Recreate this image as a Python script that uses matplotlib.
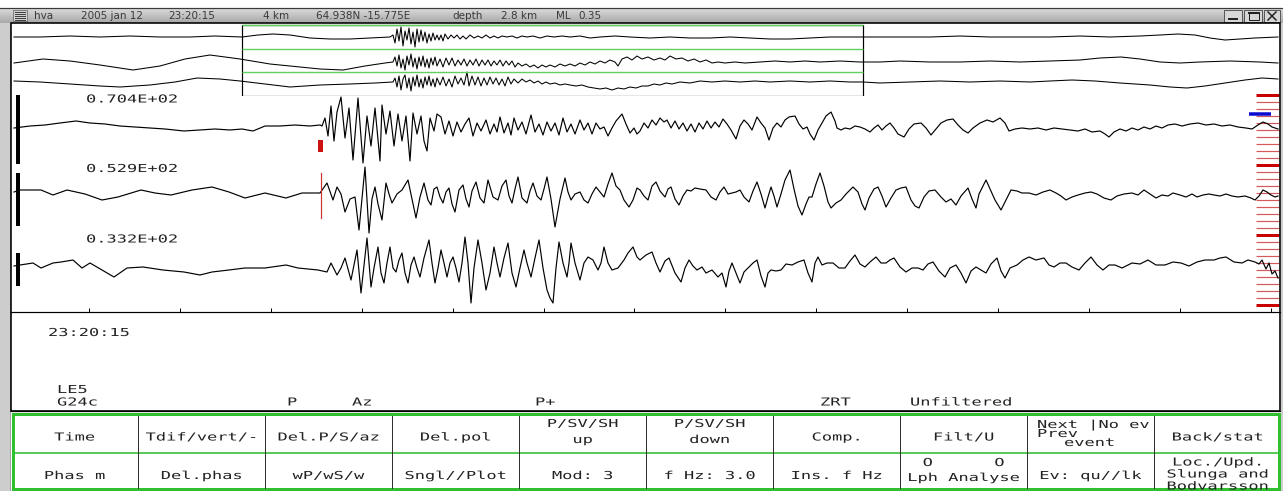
import numpy as np
import matplotlib
matplotlib.use("Agg")
import matplotlib.pyplot as plt
import matplotlib.patheffects as pe
from matplotlib.patches import Rectangle
from matplotlib.transforms import Affine2D

# ============================ DATA ============================
HEADER_FIELDS = ["hva", "2005 jan 12", "23:20:15", "4 km", "64.938N -15.775E",
                 "depth", "2.8 km", "ML", "0.35"]
START_TIME = "23:20:15"
SPS = 90.9            # display samples per second
FIRST_TICK = 89       # sample of first full second
P_PICK = 321          # sample of P pick
MAX_AMPS = ["0.704E+02", "0.529E+02", "0.332E+02"]
WINDOW = (242, 863)   # zoom window in overview samples

# main traces: (sample, amplitude)
Z_TRACE = [
    (14, -2), (30, 0), (45, 1), (60, 3), (76, 5), (90, 3), (105, 2), (120, 0), (135, -1), (150, -2),
    (165, -3), (184, -5), (200, -4), (215, -3), (230, -4), (242, -3), (253, -5), (265, 0), (280, 0),
    (295, 1), (310, 0), (320, 1),
    (322, 0), (325, 8), (328, -10), (331, 20), (334, -15), (337, 14), (341, 29), (345, -12), (349, 18),
    (353, -34), (358, 28), (363, -37), (367, 10), (371, -20), (375, 18), (380, -35), (382, 21), (386, -8),
    (390, 15), (394, -20), (398, 12), (402, -15), (406, 10), (410, -35), (413, 13), (417, -8), (421, 10),
    (424, -15), (427, -25), (430, 8), (434, -5), (437, 12),
    (441, 9), (445, -8), (449, 5), (453, -10), (457, 4), (461, -6), (465, 2), (469, 8), (473, -10),
    (477, 3), (481, -5), (486, 6), (490, -8), (494, 2), (497, -6), (500, 9), (504, -7), (508, 3),
    (511, -9), (514, 8), (518, -4), (522, 4), (526, -8), (531, 11), (535, -6), (539, 2), (543, -9),
    (547, 4), (551, -5), (555, 3), (559, -9), (563, 8), (567, -6), (571, 2), (575, -8), (580, 6),
    (584, -4), (588, 3), (592, -8), (596, 3), (600, -3), (604, -1), (608, -10), (612, -2), (616, 5),
    (622, 12), (626, 2), (630, -7), (634, -2), (637, -8),
    (640, -5), (644, 3), (648, -2), (652, 6), (656, 1), (660, 8), (664, 4), (667, 6), (671, -2),
    (675, 5), (679, -3), (683, 3), (687, -5), (691, 2), (695, -6), (699, 3), (703, -3), (707, 5),
    (711, -2), (715, 4), (719, -1), (723, 7), (727, 2), (731, -4), (736, -13), (740, 0), (744, 6),
    (748, 2), (752, -4), (757, 9), (761, 3), (765, -2), (769, -14), (773, -2), (777, 3), (781, -1),
    (785, 6), (789, 9), (795, 10), (799, 2), (803, -3), (807, -1), (810, -8), (814, -14), (818, -4),
    (822, 3), (826, 10), (831, 14), (835, 5), (837, -2), (841, -4), (845, -2), (850, -3), (855, 0),
    (860, -1), (865, -3), (870, -6), (874, -2), (878, 1), (882, -4), (886, 0), (890, 3), (894, -2),
    (898, -8), (904, -11), (909, -3), (914, 2), (921, 3), (926, -2), (931, -9), (936, -3), (941, 3),
    (947, 6), (953, 7), (958, 1), (963, -4), (968, -7), (973, -2), (980, 3), (987, 6), (993, 4),
    (1000, 8), (1005, 3), (1009, -5), (1015, -3), (1022, -2), (1030, -3), (1038, -2), (1046, -4),
    (1054, -2), (1062, -3), (1070, -4), (1078, -5), (1085, -3), (1092, -6), (1100, -5), (1105, -8),
    (1109, -11), (1114, -6), (1120, -3), (1126, -5), (1132, -2), (1138, -4), (1144, -1), (1150, -3),
    (1156, 0), (1162, -2), (1168, 1), (1175, 2), (1182, 0), (1190, 2), (1198, 3), (1206, 1),
    (1214, 2), (1222, 0), (1230, 1), (1238, -1), (1246, -2), (1252, -3), (1258, 1), (1263, 4),
    (1268, 2), (1272, -1), (1278, -3),
]

R_TRACE = [
    (14, 2), (20, 4), (41, 4), (53, -1), (67, 4), (85, 0), (102, -6), (118, -3), (141, 4), (155, 1),
    (171, -1), (192, 4), (212, 7), (229, 2), (245, -4), (265, 1), (286, -4), (302, 1), (320, 1),
    (327, 11), (333, -6), (337, 7), (341, 0), (345, -18), (350, -5), (355, -3), (359, -36), (365, 27),
    (369, -39), (372, -5), (375, 7), (378, -10), (382, -26), (386, 11), (389, 0), (392, -9), (397, 0),
    (402, 4), (408, 14), (412, -5), (416, -24), (420, -3), (424, 11), (428, -6), (431, -11), (434, 5),
    (437, 7), (440, -3), (443, -9), (446, 2), (449, 6), (452, -10), (455, -18), (459, 4), (463, 9),
    (466, -5), (469, -13), (472, 3), (476, 12), (480, -4), (484, -9), (488, 14), (493, -3), (498, -6),
    (502, 8), (506, 14), (509, -2), (512, -9), (515, 5), (518, 17), (522, -4), (527, -9), (530, 3),
    (533, 11), (537, -2), (541, -6), (544, 5), (547, 17), (551, -5), (555, -33), (560, -5), (565, 16),
    (568, 2), (571, -6), (575, 0), (580, 2), (584, -6), (588, -9), (592, 0), (596, 7), (600, 2),
    (604, -3), (608, 10), (612, 21), (616, 8), (620, 4), (624, -6), (629, -13), (633, -6), (637, 6),
    (640, 4), (644, -2), (648, -6), (652, 8), (656, 12), (660, 3), (665, -3), (668, 5), (671, 7),
    (675, -5), (679, -11), (683, -2), (687, 4), (691, 3), (695, 6), (700, 5), (706, 4), (711, -3),
    (716, -6), (720, 2), (724, 7), (728, 0), (732, 1), (736, 2), (740, 4), (744, -3), (749, -8),
    (753, 3), (757, 12), (761, 0), (765, -14), (768, -3), (771, 7), (774, -2), (777, -13), (781, 0),
    (785, 14), (790, 24), (794, 5), (798, -12), (802, -21), (806, -10), (809, -3), (812, -3),
    (816, 10), (820, 21), (824, 8), (828, -8), (831, -14), (836, -9), (841, -6), (846, 0), (853, 7),
    (858, 2), (862, -10), (865, -16), (869, -4), (874, 5), (878, 7), (882, -2), (886, -13), (891, -4),
    (896, 4), (901, 6), (906, 7), (911, -6), (915, -12), (919, -14), (924, -3), (929, 3), (935, 4),
    (941, -3), (946, -8), (951, -5), (956, -11), (961, -2), (968, 6), (972, -5), (976, -14), (979, 0),
    (983, 8), (986, 14), (990, 5), (995, -6), (1001, -16), (1006, -6), (1011, 4), (1017, 3),
    (1022, 1), (1029, 1), (1036, -1), (1043, 2), (1050, 4), (1056, 1), (1061, -2), (1066, -6),
    (1072, -3), (1078, -1), (1085, 1), (1091, 2), (1097, 0), (1104, -4), (1111, -6), (1117, -2),
    (1124, 0), (1132, 1), (1138, -1), (1144, 4), (1150, 0), (1156, -4), (1162, -1), (1168, -2),
    (1173, 1), (1180, -1), (1186, -3), (1192, 0), (1197, -3), (1203, -1), (1209, 0), (1214, -1),
    (1220, -2), (1226, 0), (1232, -2), (1238, -3), (1245, -2), (1251, -4), (1255, -6), (1259, -2),
    (1263, 4), (1267, 2), (1271, -1), (1275, -3), (1278, -2),
]

T_TRACE = [
    (14, 2), (20, 3), (33, 5), (41, 0), (53, 5), (61, 6), (73, 8), (82, 0), (90, 5), (102, -2),
    (114, -9), (127, 0), (143, 1), (163, -2), (184, -4), (200, -7), (212, -4), (229, -2), (245, 0),
    (265, 0), (286, 3), (298, 0), (318, -2), (327, -4),
    (331, 5), (337, -7), (341, 0), (345, 10), (351, -12), (357, 18), (361, -25), (367, 30), (371, -19),
    (374, 0), (378, 21), (381, -5), (384, -15), (387, 5), (390, 21), (393, 0), (396, -4), (399, 8),
    (402, 15), (405, -5), (408, -15), (411, 3), (414, 11), (417, 0), (420, -9), (424, 10), (429, 28),
    (432, 5), (435, -15), (438, 0), (441, 18), (444, 5), (447, -9), (450, 5), (453, 11), (456, 0),
    (459, -14), (462, 5), (465, 31), (468, 5), (471, -35), (474, 0), (478, 28), (482, 5), (486, -22),
    (490, -5), (494, 21), (497, 5), (500, -9), (504, 10), (508, 25), (512, -5), (516, -19), (520, 0),
    (524, 18), (527, 5), (531, -9), (535, 10), (539, 28), (543, 0), (547, -22), (550, -30), (553, -35),
    (556, 0), (559, 26), (563, 5), (567, -9), (569, 5), (571, 25), (575, 5), (580, -12), (584, 5),
    (588, 11), (593, 8), (598, -2), (601, 5), (604, 21), (608, 5), (612, -2), (618, 0), (624, 8),
    (628, 15), (633, 21), (637, 11),
    (640, 8), (646, 13), (652, 16), (656, 5), (660, -4), (665, 7), (669, 10), (675, -5), (681, -14),
    (685, 0), (689, 8), (693, 2), (697, -2), (702, 1), (706, -5), (712, -2), (718, -9), (722, -5),
    (726, -19), (729, -3), (732, 5), (736, -5), (740, -15), (744, -4), (749, 1), (753, 5), (757, 8),
    (761, -8), (765, -19), (768, -5), (771, -2), (776, -3), (781, -2), (786, 4), (792, 3), (798, 6),
    (804, 8), (808, -5), (812, -14), (815, 5), (818, 11), (822, 3), (827, 5), (833, 5), (839, 0),
    (845, 0), (850, 7), (855, 13), (860, 4), (865, 1), (870, 6), (876, 11), (881, 5), (886, 5),
    (890, 8), (894, 10), (900, 1), (906, -4), (912, 0), (918, 0), (923, -2), (928, 4), (933, 6),
    (939, -3), (945, -9), (950, 0), (956, 3), (961, -5), (966, -15), (971, -3), (976, 1), (981, -2),
    (986, -5), (991, 4), (997, 10), (1001, -3), (1005, -10), (1010, 0), (1017, 3), (1023, 8),
    (1029, 11), (1036, 8), (1044, 10), (1049, 3), (1054, 1), (1060, 5), (1066, 5), (1072, 1),
    (1079, -2), (1085, 5), (1091, 11), (1097, 3), (1103, -2), (1109, 3), (1115, 3), (1122, 0),
    (1132, 5), (1140, 4), (1148, 8), (1156, 3), (1165, 3), (1173, 6), (1181, 5), (1189, 2),
    (1197, 6), (1205, 8), (1214, 8), (1220, 10), (1226, 11), (1234, 6), (1242, 5), (1248, 8),
    (1255, 6), (1259, 4), (1262, 8), (1266, -1), (1269, 5), (1272, -6), (1275, -3), (1278, -10),
]

# overview traces (whole record): (overview sample, amplitude)
OV_Z = [
    (14, 0), (40, 0), (70, 1), (100, 0), (130, 1), (160, 0), (190, 0), (215, 1), (242, 0), (258, 2),
    (273, 3), (290, 2), (310, -1), (330, -2), (350, -2), (370, -1), (390, 0),
    (393, 2), (395, -6), (397, 8), (399, -4), (401, 10), (403, -9), (405, 6), (407, -3), (409, 9),
    (411, -7), (413, 5), (415, -10), (417, 8), (419, -5), (421, 7), (423, -4), (425, 5), (427, -6),
    (429, 3), (431, -4), (433, 4), (435, -3), (437, 2), (439, -3), (441, 2), (443, -4), (445, 3),
    (448, -2), (451, 2), (454, -1), (457, 2), (460, -2), (463, 1), (466, -2), (470, 2), (474, -1),
    (478, 1), (482, -1), (486, 2), (490, -1), (494, 1), (498, -1), (502, 1), (507, 0), (512, 1),
    (517, -1), (522, 1), (527, 0), (533, 1), (540, -1), (547, 1), (554, 0), (562, 1), (570, 0),
    (580, 1), (590, -1), (600, 0), (615, 1), (630, 0), (650, -1), (670, 0), (690, -1), (710, -1),
    (730, 0), (750, -1), (770, -2), (790, -2), (810, -1), (830, 0), (850, 0), (870, 0), (900, 0),
    (930, 0), (960, 1), (990, 0), (1020, 0), (1050, 0), (1080, 1), (1110, 0), (1140, 1), (1160, 2),
    (1178, 3), (1195, 2), (1210, -1), (1225, -3), (1240, -2), (1255, -1), (1278, 0),
]
OV_R = [
    (14, -1), (43, 3), (70, 1), (100, -3), (133, -8), (160, -4), (185, 3), (210, 7), (240, 3),
    (270, -2), (300, -5), (320, -7), (343, -8), (365, -4), (385, -1),
    (393, 0), (395, 5), (397, -4), (399, 7), (401, -6), (403, 3), (405, -8), (407, 6), (409, -3),
    (411, 8), (413, -5), (415, 4), (417, -7), (419, 5), (421, -4), (423, 6), (425, -5), (427, 3),
    (429, -6), (431, 4), (433, -3), (435, 5), (437, -4), (440, 3), (443, -5), (446, 4), (449, -3),
    (452, 4), (455, -4), (458, 2), (461, -3), (464, 3), (467, -4), (470, 2), (473, -3), (476, 3),
    (479, -4), (482, 2), (485, -3), (488, 2), (491, -4), (494, 1), (497, -3), (500, 2), (503, -4),
    (506, 1), (509, -3), (512, 1), (515, -5), (518, -1), (522, -4), (526, -2), (530, -5), (534, -3),
    (538, -6), (542, -3), (546, -5), (550, -3), (555, -5), (560, -2), (565, -4), (570, -2), (575, -4),
    (580, -1), (585, -3), (590, 0), (595, -2), (600, 1), (605, -1), (610, 2), (615, 0), (618, -4),
    (622, 3), (627, 5), (632, 2), (637, 6), (642, 3), (648, 5), (654, 2), (660, 4), (665, 2),
    (670, 6), (676, 3), (682, 4), (688, 1), (694, 3), (700, 0), (706, 2), (712, -1), (718, 0),
    (725, -1), (735, 0), (745, -1), (760, 0), (775, 1), (790, 0), (805, 1), (820, 0), (840, 1),
    (860, 0), (880, 0), (900, 1), (930, 0), (960, 0), (990, 1), (1020, 0), (1050, 1), (1080, 2),
    (1100, 4), (1121, 5), (1140, 3), (1160, 0), (1180, -1), (1200, 0), (1230, 1), (1260, 0), (1278, -1),
]
OV_T = [
    (14, 1), (40, 0), (70, -2), (100, -4), (120, -5), (150, -3), (175, 0), (197, 4), (220, 3),
    (240, 1), (265, -2), (290, -5), (320, -3), (350, -2), (375, -1), (393, 0),
    (395, 4), (397, -5), (399, 6), (401, -8), (403, 3), (405, 7), (407, -6), (409, 4), (411, -9),
    (413, 5), (415, -4), (417, 7), (419, -5), (421, 3), (423, -6), (425, 5), (427, -3), (429, 6),
    (431, -4), (433, 3), (435, -5), (437, 4), (440, -3), (443, 5), (446, -4), (449, 3), (452, -5),
    (455, 6), (458, -2), (461, 4), (464, -3), (467, 10), (469, -4), (472, 6), (475, -3), (478, 5),
    (481, -4), (484, 4), (487, -3), (490, 5), (493, -2), (496, 4), (499, -3), (502, 3), (505, -4),
    (508, 5), (511, -2), (514, 3), (518, -1), (522, 3), (526, 0), (530, 2), (534, -1), (538, 1),
    (542, -2), (546, 0), (550, -2), (555, -1), (560, -3), (565, -2), (570, -3), (576, -4), (582, -3),
    (588, -5), (594, -6), (600, -7), (606, -6), (612, -8), (618, -6), (624, -7), (630, -5), (636, -6),
    (642, -4), (648, -4), (654, -2), (660, -3), (666, -1), (672, -2), (680, 0), (690, -1), (700, 1),
    (712, 0), (725, 1), (740, 0), (755, 1), (770, 0), (790, 1), (810, 0), (830, 1), (850, 0),
    (863, 0), (880, -1), (910, 0), (940, 1), (970, 0), (1000, 1), (1030, 0), (1050, 1), (1072, 2),
    (1095, 1), (1120, -1), (1150, -3), (1170, -5), (1187, -6), (1205, -4), (1225, -1), (1245, 2),
    (1262, 4), (1278, 3),
]

STATION_LINES = ["LE5", "G24c"]
PHASE_LABELS = ["P", "Az", "P+", "ZRT", "Unfiltered"]
BUTTONS_TOP = [["Time"], ["Tdif/vert/-"], ["Del.P/S/az"], ["Del.pol"], ["P/SV/SH", "up"],
               ["P/SV/SH", "down"], ["Comp."], ["Filt/U"], None, ["Back/stat"]]
NEXT_BUTTON = ["Next |No ev", "Prev", "event"]
BUTTONS_BOTTOM = [["Phas m"], ["Del.phas"], ["wP/wS/w"], ["Sngl//Plot"], ["Mod: 3"],
                  ["f Hz: 3.0"], ["Ins. f Hz"], ["O      O", "Lph Analyse"], ["Ev: qu//lk"],
                  ["Loc./Upd.", "Slunga and", "Bodvarsson"]]

# ============================ LAYOUT ============================
W, H = 1283, 491
PX = 0.72
fig = plt.figure(figsize=(W / 100, H / 100), dpi=100)
bg = fig.add_axes([0, 0, 1, 1])
bg.set_xlim(0, W)
bg.set_ylim(H, 0)
bg.axis("off")


class Stretch(pe.AbstractPathEffect):
    """Widen glyphs horizontally to mimic the wide SEISAN screen font."""

    def __init__(self, sx, anchor):
        super().__init__()
        self.sx = sx
        self.anchor = anchor

    def draw_path(self, renderer, gc, tpath, affine, rgbFace=None):
        v = tpath.vertices
        m = 0.0
        if self.anchor == "center" and len(v):
            m = 0.5 * (v[:, 0].min() + v[:, 0].max())
        pre = Affine2D().translate(-m, 0).scale(self.sx, 1.0).translate(m, 0)
        tr = Affine2D(np.dot(affine.get_matrix(), pre.get_matrix()))
        renderer.draw_path(gc, tpath, tr, rgbFace)


FS = 7.9
SX = 1.55
TXT = "#222222"


def mtext(x, y, s, ha="left"):
    t = bg.text(x, y + 4, s, ha=ha, va="baseline", fontsize=FS,
                family="DejaVu Sans Mono", color=TXT, zorder=6)
    t.set_path_effects([Stretch(SX, "center" if ha == "center" else "left")])
    return t


# --- title bar ---
grad = np.linspace(0.86, 0.66, 30).reshape(-1, 1)
bg.imshow(grad, extent=(0, W, 23, 8), cmap="gray", vmin=0, vmax=1, aspect="auto",
          interpolation="bilinear", zorder=1)
bg.set_xlim(0, W)
bg.set_ylim(H, 0)
bg.plot([0, W], [7.5, 7.5], color="#3a3a3a", lw=1.2 * PX, zorder=2)
bg.add_patch(Rectangle((13, 9.5), 14, 11.5, facecolor="#cfcfcf", edgecolor="#707070", lw=0.6, zorder=2))
for yy in (11.5, 13.5, 15.5, 17.5, 19.5):
    bg.plot([15, 25], [yy, yy], color="#404040", lw=1.0 * PX, zorder=3)
HEADER_X = [34, 81, 168, 263, 316, 452, 501, 556, 578]
for s, x in zip(HEADER_FIELDS, HEADER_X):
    bg.text(x, 15.8, s, ha="left", va="center", fontsize=7.5, family="DejaVu Sans",
            color="#3a3a3a", zorder=3)
for x0, x1 in ((1224, 1242), (1244, 1262), (1264, 1280)):
    bg.add_patch(Rectangle((x0, 9.5), x1 - x0, 12.5, facecolor="#d6d6d6", edgecolor="#555555",
                           lw=0.7, zorder=3))
bg.plot([1229, 1237], [19, 19], color="#222222", lw=2 * PX, zorder=4)
bg.add_patch(Rectangle((1248.5, 12.5), 10, 7, facecolor="none", edgecolor="#222222", lw=1.0 * PX, zorder=4))
bg.plot([1248.5, 1258.5], [13, 13], color="#222222", lw=2 * PX, zorder=4)
bg.plot([1268, 1276], [12, 20], color="#222222", lw=1.5 * PX, zorder=4)
bg.plot([1268, 1276], [20, 12], color="#222222", lw=1.5 * PX, zorder=4)

# --- side strips & frames ---
bg.add_patch(Rectangle((0, 23), 9.5, H - 23, facecolor="#cdcdcd", edgecolor="none", zorder=1))
bg.plot([9.5, 9.5], [23, H], color="#8a8a8a", lw=0.8 * PX, zorder=2)
bg.add_patch(Rectangle((1281, 23), 2, H - 23, facecolor="#cdcdcd", edgecolor="none", zorder=1))
bg.add_patch(Rectangle((11, 23), 1269, 388, facecolor="none", edgecolor="black", lw=1.6 * PX, zorder=5))

# --- right hand red amplitude scale & blue marker ---
for k in range(31):
    yy = 95 + 7 * k
    thick = k % 10 == 0
    bg.plot([1256, 1279], [yy, yy], color="#c80000" if thick else "#d25a5a",
            lw=(3.0 if thick else 1.2) * PX, zorder=2, solid_capstyle="butt")
bg.plot([1249, 1271], [114, 114], color="#0a0ad0", lw=3.5 * PX, zorder=2, solid_capstyle="butt")

# --- black amplitude bars ---
for y0, y1 in ((95, 164), (173, 226), (253, 286)):
    bg.plot([18, 18], [y0, y1], color="black", lw=4 * PX, zorder=3, solid_capstyle="butt")

# --- overview panel ---
ov = fig.add_axes([11 / W, 1 - 96 / H, 1269 / W, (96 - 23) / H])
ov.set_xlim(11, 1280)
ov.set_ylim(96, 23)
ov.axis("off")
ov.patch.set_alpha(0)
for tr, base in ((OV_Z, 37), (OV_R, 62), (OV_T, 82)):
    ov.plot([p[0] for p in tr], [base - p[1] for p in tr], color="black", lw=0.75, zorder=3)
ov.add_patch(Rectangle((WINDOW[0], 25), WINDOW[1] - WINDOW[0], 70.5, facecolor="none",
                       edgecolor="black", lw=1.2 * PX, zorder=4))
for yy in (25, 48.5, 72):
    ov.plot([WINDOW[0], WINDOW[1]], [yy, yy], color="#5fcf5f", lw=1.4 * PX, zorder=5,
            solid_capstyle="butt")

# --- main traces ---
ax = fig.add_axes([11 / W, 1 - 312 / H, 1269 / W, (312 - 96) / H])
ax.set_xlim(11, 1280)
ax.set_ylim(312, 96)
ax.patch.set_alpha(0)
for side in ("top", "left", "right"):
    ax.spines[side].set_visible(False)
ax.spines["bottom"].set_linewidth(1.2 * PX)
ax.set_yticks([])
ax.set_xticks(FIRST_TICK + SPS * np.arange(14))
ax.tick_params(axis="x", direction="in", length=4 * PX, width=1.0 * PX, labelbottom=False)
for tr, base in ((Z_TRACE, 126), (R_TRACE, 194), (T_TRACE, 268)):
    ax.plot([p[0] for p in tr], [base - p[1] for p in tr], color="black", lw=0.85, zorder=3)
ax.add_patch(Rectangle((P_PICK - 3, 140), 5, 12, facecolor="#cc1111", edgecolor="none", zorder=4))
ax.plot([P_PICK, P_PICK], [173, 218], color="#cc3333", lw=1.2 * PX, zorder=4)

for s, y in zip(MAX_AMPS, (98.5, 168, 238.5)):
    mtext(86, y, s)

# --- text area under traces ---
mtext(48, 332, START_TIME)
mtext(57, 389, STATION_LINES[0])
mtext(57, 401.5, STATION_LINES[1])
for s, x in zip(PHASE_LABELS, (287, 352, 535, 820, 910)):
    mtext(x, 401.5, s)

# --- button panel ---
GREEN = "#2fbf2f"
bg.plot([11, 1280], [411, 411], color="black", lw=1.2 * PX, zorder=5)
bg.add_patch(Rectangle((12.5, 414), 1266, 75, facecolor="white", edgecolor=GREEN,
                       lw=3 * PX, zorder=4))
bg.plot([12.5, 1278.5], [452.5, 452.5], color=GREEN, lw=1.6 * PX, zorder=5)
for k in range(1, 10):
    xx = 11 + 127 * k
    bg.plot([xx, xx], [415.5, 488], color="#303030", lw=1.0 * PX, zorder=5)
centers = [11 + 127 * k + 63.5 for k in range(10)]
for cx, lines in zip(centers, BUTTONS_TOP):
    if lines is None:
        continue
    if len(lines) == 1:
        mtext(cx, 436.5, lines[0], ha="center")
    else:
        mtext(cx, 423, lines[0], ha="center")
        mtext(cx, 439, lines[1], ha="center")
mtext(1037, 424, NEXT_BUTTON[0])
mtext(1037, 433, NEXT_BUTTON[1])
mtext(1064, 442, NEXT_BUTTON[2])
for cx, lines in zip(centers, BUTTONS_BOTTOM):
    if len(lines) == 1:
        mtext(cx, 475, lines[0], ha="center")
    elif len(lines) == 2:
        mtext(cx, 462, lines[0], ha="center")
        mtext(cx, 477, lines[1], ha="center")
    else:
        mtext(cx, 461.5, lines[0], ha="center")
        mtext(cx, 473.5, lines[1], ha="center")
        mtext(cx, 485.5, lines[2], ha="center")

fig.savefig("out.png", dpi=100)
